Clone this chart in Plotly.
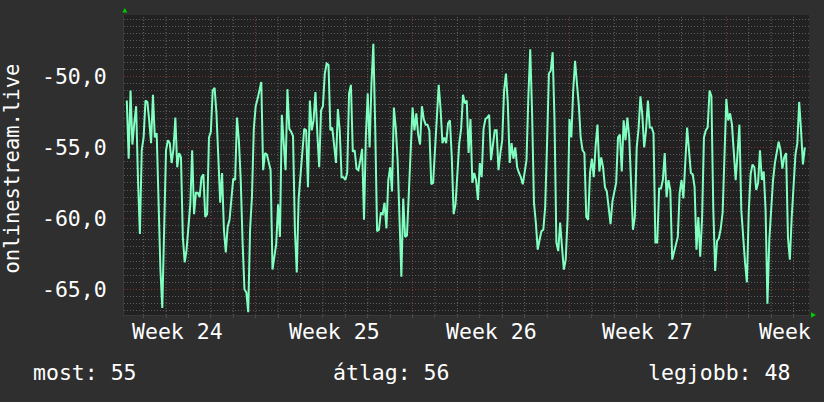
import pandas as pd
import plotly.graph_objects as go

# ---- data -------------------------------------------------------------
start_time = "2023-06-13 06:00"
step = "2h"
signal = [
    -51.7, -55.8, -51.0, -54.8, -53.3, -52.1, -57.3, -61.1, -55.2, -54.3,
    -51.7, -51.8, -53.1, -54.7, -51.3, -54.3, -54.0, -58.5, -63.6, -66.3,
    -61.1, -55.2, -54.5, -54.7, -56.1, -55.1, -52.9, -56.4, -55.4, -55.7,
    -61.3, -63.1, -62.2, -60.6, -59.0, -55.2, -59.7, -58.2, -58.2, -58.5,
    -57.1, -56.9, -59.9, -59.7, -54.3, -53.9, -51.0, -50.8, -52.6, -55.7,
    -58.9, -56.8, -60.8, -62.4, -60.6, -60.1, -58.5, -57.2, -57.3, -52.9,
    -54.5, -57.3, -61.7, -65.0, -65.2, -66.6, -60.8, -58.5, -53.7, -52.1,
    -51.6, -51.0, -50.4, -56.6, -55.4, -55.5, -56.1, -56.6, -63.6, -62.7,
    -61.8, -59.0, -61.3, -52.7, -54.5, -56.6, -50.9, -53.7, -53.9, -54.2,
    -60.8, -63.8, -58.6, -56.8, -55.7, -53.7, -53.8, -57.8, -51.7, -53.8,
    -53.1, -51.1, -54.0, -56.4, -52.4, -52.1, -49.8, -49.1, -49.2, -53.8,
    -53.6, -54.7, -56.1, -52.3, -53.8, -57.1, -57.1, -57.3, -56.8, -51.2,
    -50.6, -55.3, -55.2, -56.5, -56.6, -55.9, -55.1, -60.1, -54.2, -51.2,
    -55.0, -50.5, -47.7, -53.6, -60.9, -60.8, -59.6, -59.7, -58.9, -60.7,
    -57.3, -56.4, -58.1, -52.2, -53.6, -55.9, -60.8, -64.1, -58.6, -61.3,
    -61.2, -58.0, -55.4, -52.2, -53.8, -52.6, -54.1, -54.8, -52.1, -53.0,
    -53.4, -53.4, -53.8, -57.6, -57.5, -55.1, -53.1, -50.6, -52.3, -54.7,
    -54.3, -54.7, -53.3, -53.1, -55.7, -59.7, -59.0, -56.5, -54.7, -53.7,
    -51.3, -51.9, -51.7, -55.4, -53.0, -57.5, -56.8, -57.3, -58.7, -56.1,
    -57.1, -53.7, -53.0, -52.9, -52.7, -55.9, -55.0, -53.8, -53.8, -56.6,
    -55.4, -54.5, -51.0, -49.8, -51.9, -56.1, -54.7, -55.8, -55.0, -56.4,
    -56.8, -57.1, -57.6, -56.8, -55.9, -51.4, -48.1, -52.6, -58.9, -60.3,
    -62.2, -61.5, -60.9, -60.8, -59.2, -54.7, -49.8, -49.6, -48.3, -53.1,
    -61.7, -62.3, -60.3, -62.0, -63.6, -62.9, -60.0, -53.0, -54.3, -51.0,
    -48.9, -50.5, -52.0, -54.3, -55.2, -55.4, -59.9, -60.1, -56.8, -55.8,
    -57.1, -54.9, -53.4, -56.7, -55.7, -56.4, -57.8, -58.1, -59.4, -60.4,
    -58.8, -58.0, -57.5, -54.3, -54.1, -56.7, -53.1, -54.5, -52.9, -54.3,
    -57.5, -60.8, -59.9, -55.0, -53.7, -51.4, -52.7, -55.0, -53.8, -51.7,
    -53.6, -53.6, -54.0, -61.7, -61.7, -57.9, -57.9, -57.3, -55.4, -58.5,
    -57.3, -58.0, -62.9, -62.3, -61.7, -61.3, -58.2, -57.3, -58.6, -56.0,
    -53.6, -55.2, -56.8, -56.9, -57.8, -62.2, -59.9, -62.7, -60.0, -54.3,
    -53.8, -53.6, -51.0, -51.4, -59.3, -63.7, -61.6, -61.4, -60.7, -59.6,
    -54.8, -51.6, -53.1, -52.6, -53.4, -55.7, -57.3, -55.4, -53.4, -59.4,
    -61.5, -63.1, -64.5, -59.5, -56.9, -56.2, -56.4, -58.0, -57.5, -55.2,
    -57.3, -56.7, -59.4, -66.0, -61.5, -58.9, -57.3, -56.1, -55.2, -54.6,
    -55.2, -56.5, -55.7, -55.4, -61.4, -62.9, -59.9, -57.8, -55.5, -54.7,
    -51.8, -53.8, -56.2, -55.0,
]
series_name = "onlinestream.live"

x_range = ["2023-06-13 03:00", "2023-07-13 16:30"]
y_range = [-66.8, -45.68]
week_starts = ["2023-06-19", "2023-06-26", "2023-07-03", "2023-07-10"]
y_tick_vals = [-65, -60, -55, -50]
y_tick_text = ["-65,0", "-60,0", "-55,0", "-50,0"]
week_mid = ["2023-06-15 12:00", "2023-06-22 12:00", "2023-06-29 12:00",
            "2023-07-06 12:00", "2023-07-13 12:00"]
week_labels = ["Week 24", "Week 25", "Week 26", "Week 27", "Week 28"]
summary_labels = ["most: 55", "átlag: 56", "legjobb: 48"]

# ---- figure -----------------------------------------------------------
times = pd.date_range(start=start_time, periods=len(signal), freq=step)
days = pd.date_range("2023-06-14", "2023-07-13", freq="D")
day_lines = [d for d in days if d.weekday() != 0]   # Mondays get red lines

FONT = "DejaVu Sans Mono"
TXT = "#ffffff"
MINOR = "#5c5c5c"
MAJOR = "#7c3434"
DASH = "1px,2px"

fig = go.Figure()
fig.add_trace(go.Scatter(
    x=times, y=signal, mode="lines",
    line=dict(color="#80ffc0", width=2),
    name=series_name, showlegend=False, hoverinfo="skip",
))

fig.update_layout(
    width=824, height=402,
    margin=dict(l=124, r=15, t=15, b=87),
    paper_bgcolor="#2f2f2f",
    plot_bgcolor="#212121",
    font=dict(family=FONT, color=TXT, size=21),
    showlegend=False,
)

fig.update_layout(
    xaxis=dict(
        type="date", range=x_range,
        tickmode="linear", tick0=week_starts[0], dtick=86400000,
        showticklabels=False, showgrid=False,
        ticks="outside", ticklen=2, tickcolor="#505050",
        showline=True, linecolor="#3a3a3a", linewidth=1,
        zeroline=False, fixedrange=True,
    ),
    yaxis=dict(
        range=y_range,
        tickmode="array", tickvals=y_tick_vals, ticktext=y_tick_text,
        tickfont=dict(family=FONT, size=21.5, color=TXT),
        ticklabelstandoff=12,
        showgrid=True, gridcolor=MAJOR, gridwidth=1, griddash=DASH,
        ticks="",
        minor=dict(tickmode="linear", tick0=-50, dtick=0.5,
                   showgrid=True, gridcolor=MINOR, gridwidth=1, griddash=DASH),
        showline=True, linecolor="#3a3a3a", linewidth=1,
        zeroline=False, fixedrange=True,
    ),
)

annotations = []
for xm, lab in zip(week_mid, week_labels):
    annotations.append(dict(
        x=xm, xref="x", y=-0.055, yref="paper", text=lab, showarrow=False,
        xanchor="center", yanchor="middle",
        font=dict(family=FONT, size=21.5, color=TXT)))

annotations.append(dict(
    x=-0.1628, xref="paper", y=0.49, yref="paper", text=series_name,
    textangle=-90, showarrow=False, xanchor="center", yanchor="middle",
    font=dict(family=FONT, size=20.5, color=TXT)))

summary_pos = [(-0.1357, "left"), (0.3908, "center"), (0.9757, "right")]
for (xp, anc), lab in zip(summary_pos, summary_labels):
    annotations.append(dict(
        x=xp, xref="paper", y=-0.1933, yref="paper", text=lab,
        showarrow=False, xanchor=anc, yanchor="middle",
        font=dict(family=FONT, size=21.5, color=TXT)))

fig.update_layout(annotations=annotations)

shapes = []
# day grid lines (gray, dotted)
for d in day_lines:
    shapes.append(dict(
        type="line", xref="x", yref="paper", x0=d, x1=d, y0=0, y1=1,
        line=dict(color="#666666", width=1, dash=DASH), layer="between"))
# week boundary grid lines (red, dotted) with short tick below the axis
for ws in week_starts:
    shapes.append(dict(
        type="line", xref="x", yref="paper", x0=ws, x1=ws, y0=-0.01, y1=1,
        line=dict(color="#8a3a3a", width=1, dash=DASH), layer="between"))
# axis-end arrows (decoration)
shapes.append(dict(type="path", xref="paper", yref="paper",
                   path="M -0.0025,1.0083 L 0.0012,1.0233 L 0.0048,1.0083 Z",
                   fillcolor="#00cc00", line=dict(width=0)))
shapes.append(dict(type="path", xref="paper", yref="paper",
                   path="M 1.0029,0.009 L 1.0102,0 L 1.0029,-0.009 Z",
                   fillcolor="#00cc00", line=dict(width=0)))
fig.update_layout(shapes=shapes)

fig.write_html("out.html", config={"displayModeBar": False})
